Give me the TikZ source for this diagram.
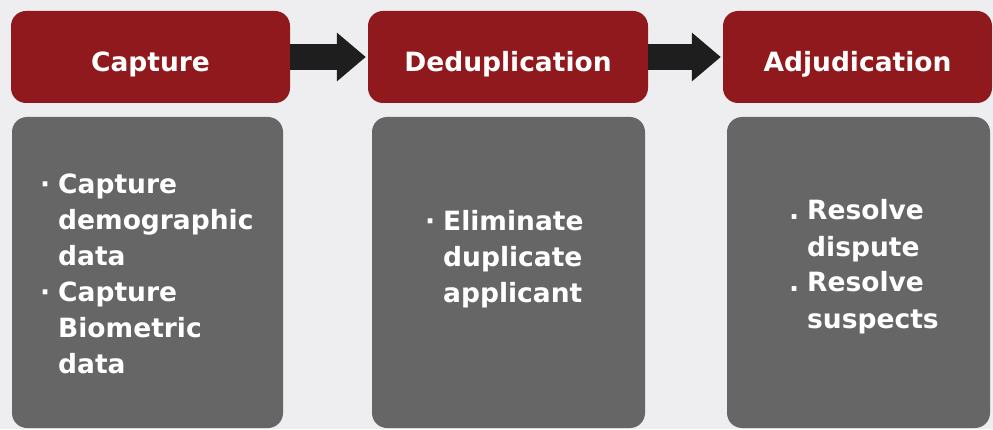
\documentclass[tikz,border=0pt]{standalone}
\usepackage{fontspec}
\setmainfont{DejaVu Sans}
\usetikzlibrary{arrows.meta}
\definecolor{pagebg}{RGB}{238,238,240}
\definecolor{headred}{RGB}{143,25,28}
\definecolor{bodygray}{RGB}{102,102,102}
\definecolor{arrowblack}{RGB}{30,30,30}
\tikzset{
  headbox/.style={fill=headred, rounded corners=15pt, minimum height=92pt,
    inner sep=0pt, text=white, font=\bfseries\fontsize{26.5}{36}\selectfont,
    text height=36pt, text depth=6pt},
  bodybox/.style={fill=bodygray, rounded corners=15pt, minimum height=311pt,
    inner sep=0pt},
  listtext/.style={anchor=base west, inner sep=0pt, text=white,
    font=\bfseries\fontsize{26.5}{36}\selectfont},
  bigarrow/.style={arrowblack, line width=26pt,
    -{Triangle[length=29pt,width=47pt]}, shorten >=2pt}
}
\newcommand{\bul}[1]{\makebox[18pt][l]{#1}}
\begin{document}
\begin{tikzpicture}[x=1pt, y=1pt]
            \fill[pagebg] (0,0) rectangle (993,429);
            % red headings
            \foreach \n/\x/\w/\t in {cap/150.5/279/Capture,
                dedup/508/280/Deduplication, adj/857.5/269/Adjudication}
            \node[headbox, minimum width=\w pt] (\n) at (\x,372) {\t};
            % gray panels
            \foreach \n/\x/\w in {capbody/147.5/271, dedupbody/508.5/273,
                adjbody/858.5/263}
            \node[bodybox, minimum width=\w pt] (\n) at (\x,156.5) {};
            \node[listtext] (captext) at (40,236) {%
              \begin{tabular}[t]{@{}l@{}l@{}}
                \bul{·} & Capture\\ & demographic\\ & data\\
                \bul{·} & Capture\\ & Biometric\\ & data
              \end{tabular}};
            \node[listtext] (deduptext) at (425,199) {%
              \begin{tabular}[t]{@{}l@{}l@{}}
                \bul{·} & Eliminate\\ & duplicate\\ & applicant
              \end{tabular}};
            \node[listtext] (adjtext) at (789,209) {%
              \begin{tabular}[t]{@{}l@{}l@{}}
                \bul{.} & Resolve\\ & dispute\\
                \bul{.} & Resolve\\ & suspects
              \end{tabular}};
            % arrows between steps
            \draw[bigarrow] (cap.east) -- (dedup.west);
            \draw[bigarrow] (dedup.east) -- (adj.west);
        \end{tikzpicture}
\end{document}
